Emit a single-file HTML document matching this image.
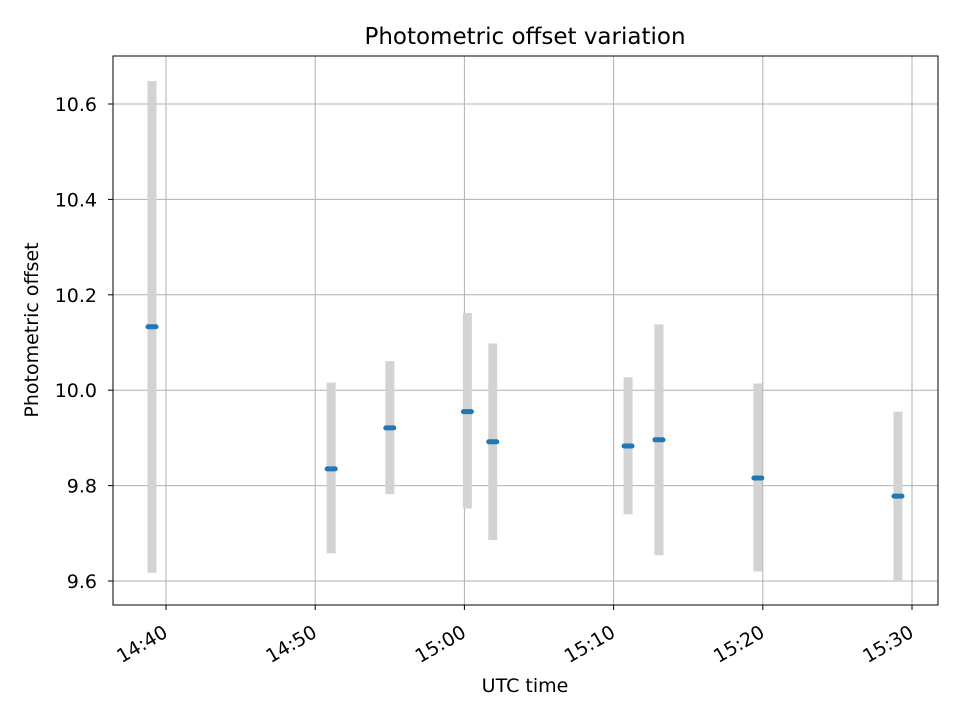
<!DOCTYPE html>
<html><head><meta charset="utf-8"><style>
body{margin:0;background:#fff;font-family:"DejaVu Sans","Liberation Sans",sans-serif}
</style></head><body>
<svg id="chart" width="960" height="720" xmlns="http://www.w3.org/2000/svg" font-family="DejaVu Sans, Liberation Sans, sans-serif">
<rect width="960" height="720" fill="#fff"/>
<g id="grid"></g>
<g id="bars"></g>
<g id="marks"></g>
<rect x="113" y="56" width="825" height="549" fill="none" stroke="#000" stroke-width="1"/>
<g id="axes"></g>
<text x="525" y="44" text-anchor="middle" font-size="23">Photometric offset variation</text>
<text x="525" y="692" text-anchor="middle" font-size="19">UTC time</text>
<text transform="translate(38,330) rotate(-90)" text-anchor="middle" font-size="19">Photometric offset</text>
</svg>
<script>
// minutes after 14:40
const times=[-0.94,11.07,15.0,20.2,21.9,30.97,33.04,39.67,49.06];
const values=[10.133,9.835,9.921,9.955,9.892,9.883,9.896,9.816,9.778];
const lows=[9.617,9.658,9.782,9.752,9.686,9.740,9.654,9.620,9.600];
const highs=[10.648,10.016,10.061,10.162,10.098,10.027,10.138,10.014,9.955];
const xTicks=[0,10,20,30,40,50];
const xTickLabels=["14:40","14:50","15:00","15:10","15:20","15:30"];
const yTicks=[9.6,9.8,10.0,10.2,10.4,10.6];
const yTickLabels=["9.6","9.8","10.0","10.2","10.4","10.6"];
const NS="http://www.w3.org/2000/svg";
const X=m=>166+m*14.92;
const Y=v=>581-(v-9.6)*477;
function mk(p,tag,a){const e=document.createElementNS(NS,tag);for(const k in a)e.setAttribute(k,a[k]);document.getElementById(p).appendChild(e);return e;}
xTicks.forEach((t,i)=>{
 const g=mk('grid','line',{x1:X(t),x2:X(t),y1:56,y2:605,stroke:'#b0b0b0','stroke-width':1});
 
 
 const tk=mk('axes','line',{x1:X(t),x2:X(t),y1:605,y2:610,stroke:'#000'});
 
 
 const l=mk('axes','text',{transform:`translate(${X(t)+3},${636}) rotate(-30)`,'text-anchor':'end','font-size':19});
 l.textContent=xTickLabels[i];
 
 
});
yTicks.forEach((t,i)=>{
 const g=mk('grid','line',{x1:113,x2:938,y1:Y(t),y2:Y(t),stroke:'#b0b0b0','stroke-width':1});
 
 
 const tk=mk('axes','line',{x1:108,x2:113,y1:Y(t),y2:Y(t),stroke:'#000'});
 
 
 const l=mk('axes','text',{x:97,y:Y(t)+7,'text-anchor':'end','font-size':19});
 l.textContent=yTickLabels[i];
 
 
});
times.forEach((t,i)=>{
 const b=mk('bars','rect',{x:X(t)-4.5,y:Y(highs[i]),width:9,height:Y(lows[i])-Y(highs[i]),fill:'#d3d3d3'});
 
 
 const m=mk('marks','line',{x1:X(t)-4,x2:X(t)+4,y1:Y(values[i]),y2:Y(values[i]),stroke:'#1f77b4','stroke-width':5,'stroke-linecap':'round'});
 
 
});
</script>
</body></html>
